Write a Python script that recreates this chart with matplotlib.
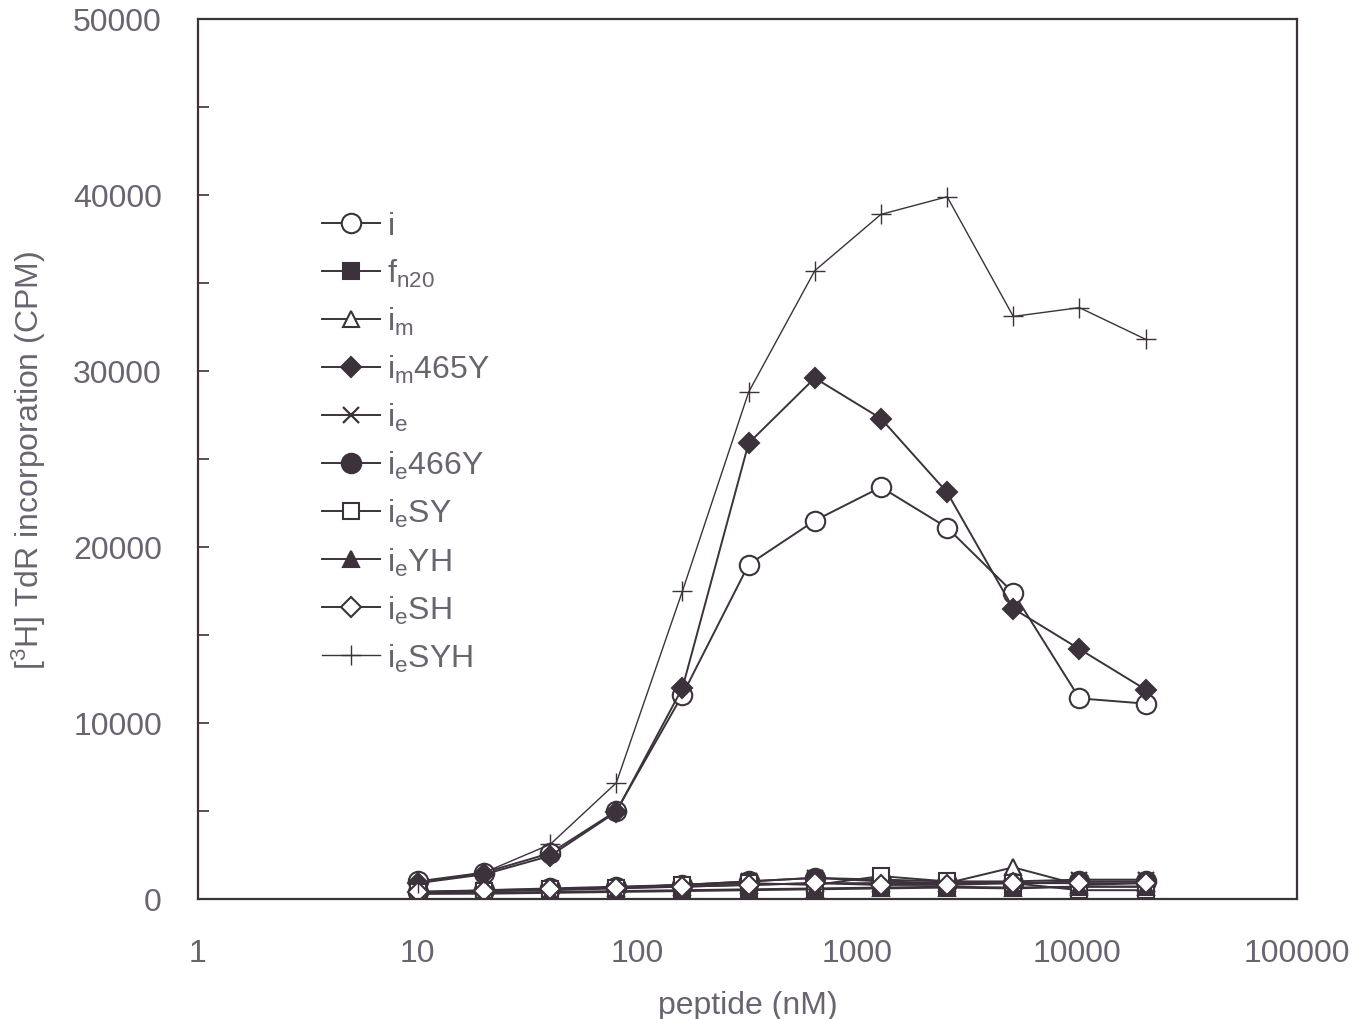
import matplotlib
matplotlib.use("Agg")
import matplotlib.pyplot as plt
from matplotlib import font_manager

# ---- data ----
peptide_nM = [10, 20, 40, 80, 160, 320, 640, 1280, 2560, 5120, 10240, 20480]
series_labels = ["i", "f$_{\\mathrm{n20}}$", "i$_{\\mathrm{m}}$", "i$_{\\mathrm{m}}$465Y",
                 "i$_{\\mathrm{e}}$", "i$_{\\mathrm{e}}$466Y", "i$_{\\mathrm{e}}$SY",
                 "i$_{\\mathrm{e}}$YH", "i$_{\\mathrm{e}}$SH", "i$_{\\mathrm{e}}$SYH"]
i_vals      = [1000, 1500, 2600, 5000, 11600, 19000, 21500, 23400, 21100, 17400, 11400, 11100]
fn20_vals   = [300, 350, 400, 450, 500, 550, 600, 650, 700, 650, 700, 700]
im_vals     = [400, 450, 500, 600, 700, 800, 900, 900, 900, 1800, 800, 900]
im465Y_vals = [900, 1400, 2450, 4950, 12000, 25900, 29600, 27300, 23100, 16500, 14200, 11900]
ie_vals     = [300, 500, 550, 650, 800, 1000, 1200, 1100, 1000, 1000, 1100, 1100]
ie466Y_vals = [400, 500, 600, 700, 800, 1000, 1200, 1000, 900, 900, 1000, 1000]
ieSY_vals   = [400, 450, 550, 650, 800, 900, 800, 1300, 1000, 900, 500, 500]
ieYH_vals   = [300, 300, 350, 400, 450, 500, 550, 600, 650, 600, 700, 700]
ieSH_vals   = [400, 450, 550, 650, 700, 800, 900, 800, 800, 900, 900, 900]
ieSYH_vals  = [900, 1500, 3100, 6600, 17500, 28800, 35700, 38900, 39900, 33100, 33600, 31800]
x_tick_vals = [1, 10, 100, 1000, 10000, 100000]
x_tick_labels = ["1", "10", "100", "1000", "10000", "100000"]
y_tick_vals = [0, 10000, 20000, 30000, 40000, 50000]

all_vals = [i_vals, fn20_vals, im_vals, im465Y_vals, ie_vals, ie466Y_vals,
            ieSY_vals, ieYH_vals, ieSH_vals, ieSYH_vals]

# ---- style ----
line_c = "#3b323c"
text_c = "#6a6370"
names = {f.name for f in font_manager.fontManager.ttflist}
narrow = "Liberation Sans Narrow" if "Liberation Sans Narrow" in names else "Liberation Sans"
plt.rcParams["font.family"] = ["Liberation Sans", "DejaVu Sans"]
plt.rcParams["mathtext.fontset"] = "custom"
plt.rcParams["mathtext.rm"] = "Liberation Sans"
plt.rcParams["mathtext.it"] = "Liberation Sans:italic"

styles = [
    dict(marker="o", ms=14, mfc="white"),
    dict(marker="s", ms=12, mfc=line_c),
    dict(marker="^", ms=12, mfc="white"),
    dict(marker="D", ms=10, mfc=line_c),
    dict(marker="x", ms=12, mfc=line_c, mew=1.6),
    dict(marker="o", ms=14, mfc=line_c),
    dict(marker="s", ms=12, mfc="white"),
    dict(marker="^", ms=12, mfc=line_c),
    dict(marker="D", ms=10, mfc="white"),
    dict(marker="+", ms=14, mfc=line_c, mew=1.0),
]

fig = plt.figure(figsize=(13.54, 10.2), dpi=100)
ax = fig.add_axes([198/1354, 1-900/1020, 1099/1354, 880/1020])

for vals, lab, st in zip(all_vals, series_labels, styles):
    mew = st.pop("mew", 1.5)
    lw = 1.0 if st["marker"] == "+" else 1.4
    ax.plot(peptide_nM, vals, color=line_c, lw=lw, mec=line_c, mew=mew, label=lab, **st)

ax.set_xscale("log")
ax.set_xlim(1, 100000)
ax.set_ylim(0, 50000)
ax.set_xticks(x_tick_vals)
ax.set_xticklabels(x_tick_labels, fontfamily=narrow)
ax.minorticks_off()
ax.tick_params(axis="x", length=0, pad=28, labelsize=23, colors=text_c)
ax.set_yticks(y_tick_vals)
ax.set_yticklabels([str(v) for v in y_tick_vals])
ax.set_yticks(list(range(5000, 50000, 10000)), minor=True)
ax.tick_params(axis="y", which="both", direction="in", length=8, width=1.2,
               color=line_c, pad=26, labelsize=23, labelcolor=text_c)
for sp in ax.spines.values():
    sp.set_color(line_c)
    sp.set_linewidth(1.6)

ax.set_xlabel("peptide (nM)", fontsize=23, color=text_c, fontfamily=narrow, labelpad=16)
ax.set_ylabel("[$^{3}$H] TdR incorporation (CPM)", fontsize=23, color=text_c,
              fontfamily=narrow, labelpad=18)

leg = ax.legend(loc="upper left", bbox_to_anchor=(322/1354, 1-212/1020),
                bbox_transform=fig.transFigure, frameon=False, fontsize=23,
                handlelength=1.8, handletextpad=0.25, labelspacing=0.5,
                borderpad=0, borderaxespad=0)
for t in leg.get_texts():
    t.set_color(text_c)

fig.savefig("out.png", dpi=100)
